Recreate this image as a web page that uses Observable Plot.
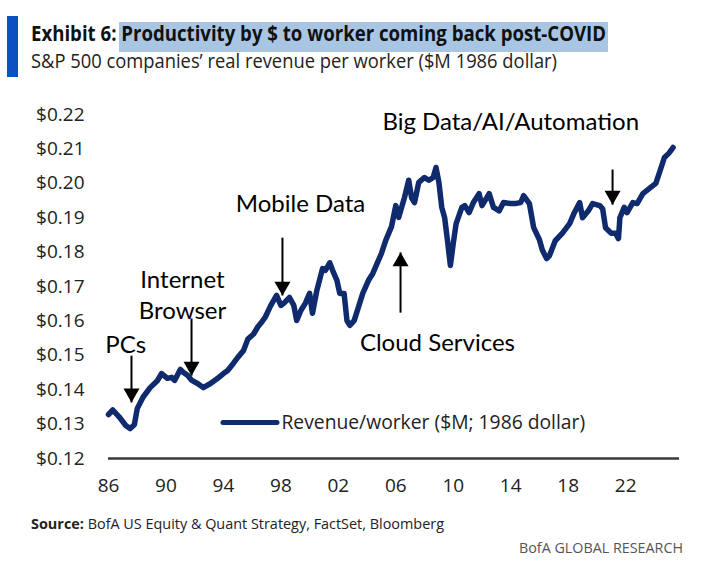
<!DOCTYPE html>
<html><head><meta charset="utf-8">
<script src="https://cdn.jsdelivr.net/npm/d3@7"></script>
<script src="https://cdn.jsdelivr.net/npm/@observablehq/plot@0.6"></script>
<style>
body{margin:0;background:#fff;width:714px;height:568px;position:relative;overflow:hidden;font-family:"Open Sans",sans-serif;color:#111;}
#bar{position:absolute;left:7px;top:16px;width:11px;height:61px;background:#0b52c0;}
#hl{position:absolute;top:22px;height:30px;background:#a8c6e3;}
#title{position:absolute;left:31px;top:19px;font-weight:700;font-size:21px;line-height:28px;white-space:nowrap;transform-origin:0 0;}
#sub{position:absolute;left:31px;top:47px;font-size:20px;line-height:28px;white-space:nowrap;color:#222;transform-origin:0 0;}
#chart{position:absolute;left:0;top:90px;}
#source{position:absolute;left:31px;top:513px;font-size:15px;white-space:nowrap;color:#222;transform-origin:0 0;}
#brand{position:absolute;left:519px;top:537px;font-size:15px;white-space:nowrap;color:#555;transform-origin:0 0;}
</style></head>
<body>
<div id="bar"></div>
<div id="hl"></div>
<div id="title">Exhibit 6: <span id="hlspan">Productivity by $ to worker coming back post-COVID</span></div>
<div id="sub">S&amp;P 500 companies’ real revenue per worker ($M 1986 dollar)</div>
<div id="chart"></div>
<div id="source"><b>Source:</b> BofA US Equity &amp; Quant Strategy, FactSet, Bloomberg</div>
<div id="brand">BofA GLOBAL RESEARCH</div>
<script>
const years = [1986.0,1986.3,1986.8,1987.2,1987.5,1987.8,1988.0,1988.4,1988.9,1989.4,1989.7,1990.1,1990.4,1990.6,1991.0,1991.2,1991.5,1991.8,1992.2,1992.6,1993.1,1993.6,1994.0,1994.3,1994.7,1995.0,1995.4,1995.7,1996.1,1996.4,1996.6,1996.9,1997.3,1997.7,1998.0,1998.2,1998.6,1998.9,1999.1,1999.4,1999.7,2000.0,2000.2,2000.5,2000.9,2001.1,2001.4,2001.6,2001.9,2002.1,2002.4,2002.6,2002.8,2003.1,2003.4,2003.7,2004.1,2004.4,2004.7,2005.0,2005.3,2005.7,2006.0,2006.2,2006.6,2006.9,2007.1,2007.3,2007.6,2008.0,2008.3,2008.6,2008.8,2009.0,2009.2,2009.4,2009.6,2009.8,2010.0,2010.2,2010.6,2010.8,2011.1,2011.4,2011.8,2012.0,2012.5,2012.8,2013.2,2013.5,2014.0,2014.3,2014.7,2014.9,2015.3,2015.6,2016.0,2016.2,2016.5,2016.7,2017.1,2017.6,2018.1,2018.4,2018.8,2019.0,2019.4,2019.7,2020.2,2020.4,2020.6,2021.0,2021.3,2021.5,2021.6,2021.9,2022.1,2022.5,2022.8,2023.2,2023.7,2024.1,2024.4,2024.7,2025.0,2025.3];
const revenue = [0.1328,0.1341,0.1318,0.1296,0.1287,0.1298,0.1345,0.1378,0.1406,0.1426,0.1447,0.1433,0.1436,0.1427,0.1459,0.1451,0.1442,0.1427,0.1418,0.1406,0.1418,0.1433,0.1447,0.1456,0.1477,0.1494,0.1514,0.1547,0.1562,0.1583,0.1593,0.1610,0.1645,0.1674,0.1645,0.1651,0.1668,0.1645,0.1601,0.1631,0.1651,0.1680,0.1622,0.1688,0.1752,0.1747,0.1769,0.1747,0.1718,0.1680,0.1680,0.1601,0.1587,0.1601,0.1640,0.1680,0.1718,0.1738,0.1767,0.1796,0.1834,0.1874,0.1935,0.1901,0.1958,0.2009,0.1958,0.1944,0.2003,0.2017,0.2009,0.2017,0.2046,0.2003,0.1930,0.1900,0.1833,0.1761,0.1825,0.1883,0.1930,0.1935,0.1915,0.1944,0.1970,0.1935,0.1970,0.1930,0.1920,0.1944,0.1941,0.1941,0.1944,0.1964,0.1941,0.1871,0.1836,0.1806,0.1781,0.1790,0.1833,0.1855,0.1883,0.1912,0.1944,0.1900,0.1920,0.1941,0.1935,0.1926,0.1871,0.1855,0.1855,0.1839,0.1900,0.1930,0.1915,0.1944,0.1941,0.1970,0.1987,0.2000,0.2037,0.2075,0.2087,0.2104];

const yTicks = [0.12,0.13,0.14,0.15,0.16,0.17,0.18,0.19,0.20,0.21,0.22];
const xTicks = [1986,1990,1994,1998,2002,2006,2010,2014,2018,2022];

const noteText = ["PCs","Internet","Browser","Mobile Data","Cloud Services","Big Data/AI/Automation"];
const noteX = [1987.2,1991.15,1991.15,1999.37,2008.9,2014.0];
const noteY = [0.1530,0.1718,0.1628,0.1938,0.1536,0.2176];

const arrowX = [1987.6,1991.78,1998.11,2006.33,2021.09];
const arrowFrom = [0.1499,0.1607,0.1842,0.1624,0.2040];
const arrowTo = [0.1363,0.1441,0.1674,0.1799,0.1938];
const arrowDown = [true,true,true,false,true];

const legendLabel = "Revenue/worker ($M; 1986 dollar)";
const legendX = [1993.97,1997.73];
const legendY = 0.1305;
const legendTextX = 1998.04;

const series = years.map((y,i)=>({year:y,value:revenue[i]}));
const notes = noteText.map((t,i)=>({t,x:noteX[i],y:noteY[i]}));
const arrows = arrowX.map((x,i)=>({x,y1:arrowFrom[i],y2:arrowTo[i],down:arrowDown[i]}));
const navy = "#102a6e";
const tickFont = "'Open Sans', sans-serif";

const chart = Plot.plot({
  width:714, height:420,
  marginLeft:108, marginRight:35, marginTop:24, marginBottom:52,
  style:{fontFamily:tickFont, fontSize:"19px", color:"#222", background:"transparent"},
  x:{domain:[1986,2025.75], ticks:xTicks, tickFormat:d=>String(d%100).padStart(2,"0"), tickSize:0, tickPadding:20, label:null},
  y:{domain:[0.12,0.22], ticks:yTicks, tickFormat:d=>"$"+d.toFixed(2), tickSize:0, tickPadding:24, label:null},
  marks:[
    Plot.ruleY([0.12],{stroke:"#3a3a3a",strokeWidth:2.5}),
    Plot.line(series,{x:"year",y:"value",stroke:navy,strokeWidth:5.5,strokeLinejoin:"round",strokeLinecap:"round"}),
    Plot.link([0],{x1:legendX[0],x2:legendX[1],y1:legendY,y2:legendY,stroke:navy,strokeWidth:5,strokeLinecap:"round"}),
    Plot.text([legendLabel],{x:legendTextX,y:legendY,text:d=>d,textAnchor:"start",fontSize:19.3,fill:"#222",fontFamily:tickFont}),
    Plot.text(notes,{x:"x",y:"y",text:"t",fontSize:24,fill:"#000",fontFamily:"Lato, sans-serif",lineAnchor:"middle"}),
    Plot.link(arrows,{x1:"x",x2:"x",y1:"y1",y2:"y2",stroke:"#000",strokeWidth:2}),
    Plot.dot(arrows.filter(d=>d.down),{x:"x",y:"y2",symbol:"triangle",r:5.94,rotate:180,dy:-9.2,fill:"#000",stroke:"none"}),
    Plot.dot(arrows.filter(d=>!d.down),{x:"x",y:"y2",symbol:"triangle",r:5.94,dy:9.2,fill:"#000",stroke:"none"})
  ]
});
document.getElementById("chart").appendChild(chart);

function fit(id, w){
  const el=document.getElementById(id);
  const cw=el.getBoundingClientRect().width;
  el.style.transform=`scaleX(${w/cw})`;
}
fit("title",575); fit("sub",526); fit("source",413); fit("brand",164);
const r=document.getElementById("hlspan").getBoundingClientRect();
const hl=document.getElementById("hl");
hl.style.left=(r.left-2)+"px"; hl.style.width=(r.width+4)+"px";
</script>
</body></html>
